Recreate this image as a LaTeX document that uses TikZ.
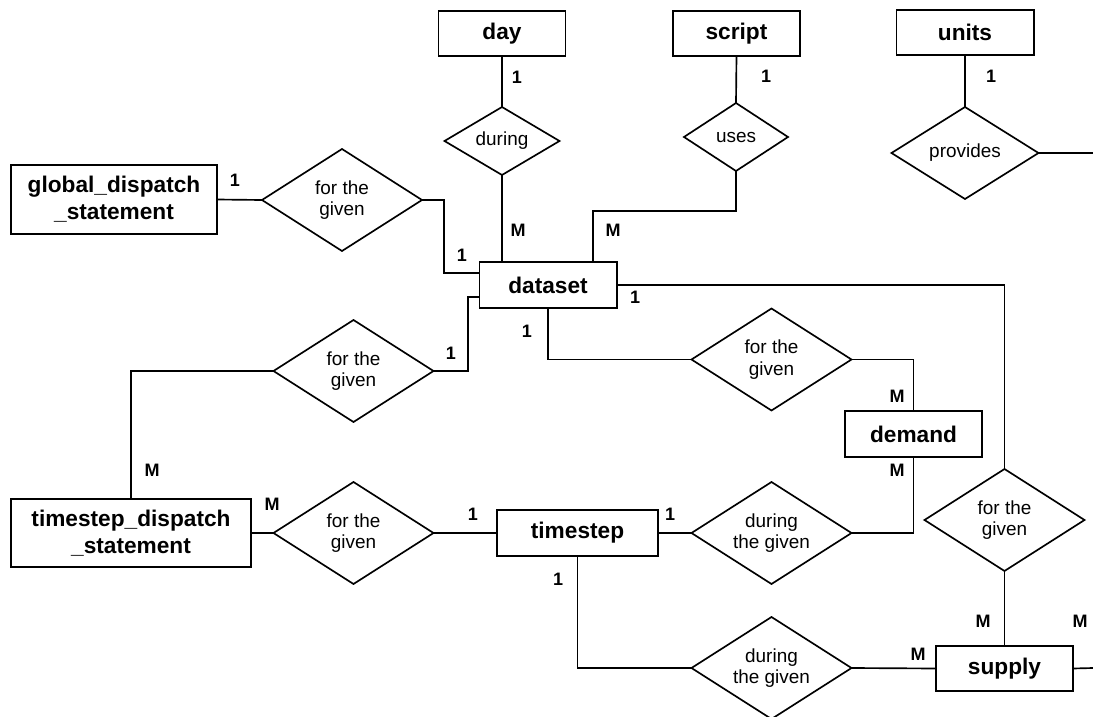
\documentclass[tikz,border=0pt]{standalone}
\usepackage{fontspec}
\setmainfont{Liberation Sans}
\usetikzlibrary{shapes.geometric}

\begin{document}
\begin{tikzpicture}[
    x=0.75pt, y=-0.75pt,
    line width=1.25pt,
    entity/.style={draw, inner sep=0pt, outer sep=0pt, minimum width=103pt, minimum height=34.5pt, align=center, font=\bfseries\fontsize{17}{20.5}\selectfont},
    rel/.style={draw, diamond, aspect=1.57, inner sep=0pt, outer sep=0pt, minimum width=120pt, minimum height=76.5pt, align=center, font=\fontsize{14.2}{16.3}\selectfont},
    card/.style={inner sep=0pt, font=\bfseries\fontsize{13.5}{15}\selectfont}
]
    \useasboundingbox (0,0) rectangle (1093,717);

    \node[entity] (dataset) at (548,285) {dataset};
    \node[entity, minimum width=95.25pt, minimum height=33.75pt] (day) at (502,33.5) {day};
    \node[entity, minimum width=95.25pt, minimum height=33.75pt] (script) at (736.5,33.5) {script};
    \node[entity, minimum height=33.75pt] (units) at (965,32.5) {units};
    \node[entity, minimum width=154.5pt, minimum height=51.75pt] (global) at (114,199.5) {global\_dispatch\\\_statement};
    \node[entity, minimum width=102.75pt] (demand) at (913.5,434) {demand};
    \node[entity, minimum width=180pt, minimum height=51pt] (tds) at (131,533) {timestep\_dispatch\\\_statement};
    \node[entity, minimum width=120.75pt] (timestep) at (577.5,533) {timestep};
    \node[entity, minimum width=102.75pt, minimum height=33.75pt] (supply) at (1004.5,668.5) {supply};

    \node[rel, minimum width=86.25pt, minimum height=51pt, aspect=1.69] (during) at (502,141) {during};
    \node[rel, minimum width=78pt, minimum height=51pt, aspect=1.53] (uses) at (736,137) {uses};
    \node[rel, minimum width=110.25pt, minimum height=69pt, aspect=1.6] (provides) at (965,153) {provides};
    \node[rel] (forglobal) at (342,200) {for the\\given};
    \node[rel] (fortdsdata) at (353.5,371) {for the\\given};
    \node[rel] (fortdsstep) at (353.5,533) {for the\\given};
    \node[rel] (fordemand) at (771.5,359.5) {for the\\given};
    \node[rel] (duringdemand) at (771.5,533) {during\\the given};
    \node[rel] (forsupply) at (1004.5,520) {for the\\given};
    \node[rel] (duringsupply) at (771.5,668) {during\\the given};

    \coordinate (unitsend) at (1093,153);
    \coordinate (supplyend) at (1093,668);
    \coordinate (globalbend) at (444,273);
    \coordinate (tdsbend) at (468,297);
    \coordinate (usesbend) at (593,211);

    \draw (day.south) -- (during.north);
    \draw (during.south) -- (during.south |- dataset.north);
    \draw (script.south) -- (uses.north);
    \draw (uses.south) |- (usesbend) -- (usesbend |- dataset.north);
    \draw (units.south) -- (provides.north);
    \draw (provides.east) -- (unitsend);
    \draw (global.east) -- (forglobal.west);
    \draw (forglobal.east) -| (globalbend) -- (globalbend -| dataset.west);
    \draw (fortdsdata.east) -| (tdsbend) -- (tdsbend -| dataset.west);
    \draw (fortdsdata.west) -| (tds.north);
    \draw (dataset.south) |- (fordemand.west);
    \draw (fordemand.east) -| (demand.north);
    \draw (dataset.east) -| (forsupply.north);
    \draw (demand.south) |- (duringdemand.east);
    \draw (timestep.east) -- (duringdemand.west);
    \draw (tds.east) -- (fortdsstep.west);
    \draw (fortdsstep.east) -- (timestep.west);
    \draw (timestep.south) |- (duringsupply.west);
    \draw (duringsupply.east) -- (supply.west);
    \draw (forsupply.south) -- (supply.north);
    \draw (supply.east) -- (supplyend);

    \node[card] (cday) at (517,77) {1};
    \node[card] (cdayset) at (518,230) {M};
    \node[card] (cscript) at (766,76) {1};
    \node[card] (cscriptset) at (613,230) {M};
    \node[card] (cunits) at (991,76) {1};
    \node[card] (cglobal) at (235,180) {1};
    \node[card] (cglobalset) at (462,255) {1};
    \node[card] (ctdsset) at (451,353) {1};
    \node[card] (ctdsup) at (152,470) {M};
    \node[card] (cdemandset) at (527,331) {1};
    \node[card] (cdemandup) at (897,396) {M};
    \node[card] (csupplyset) at (635,297) {1};
    \node[card] (cdemanddown) at (897,470) {M};
    \node[card] (cstepright) at (670,514) {1};
    \node[card] (ctdsright) at (272,504) {M};
    \node[card] (cstepleft) at (473,514) {1};
    \node[card] (cstepdown) at (558,579) {1};
    \node[card] (csupplyleft) at (918,654) {M};
    \node[card] (csupplyup) at (983,621) {M};
    \node[card] (csupplyright) at (1080,621) {M};
\end{tikzpicture}
\end{document}
